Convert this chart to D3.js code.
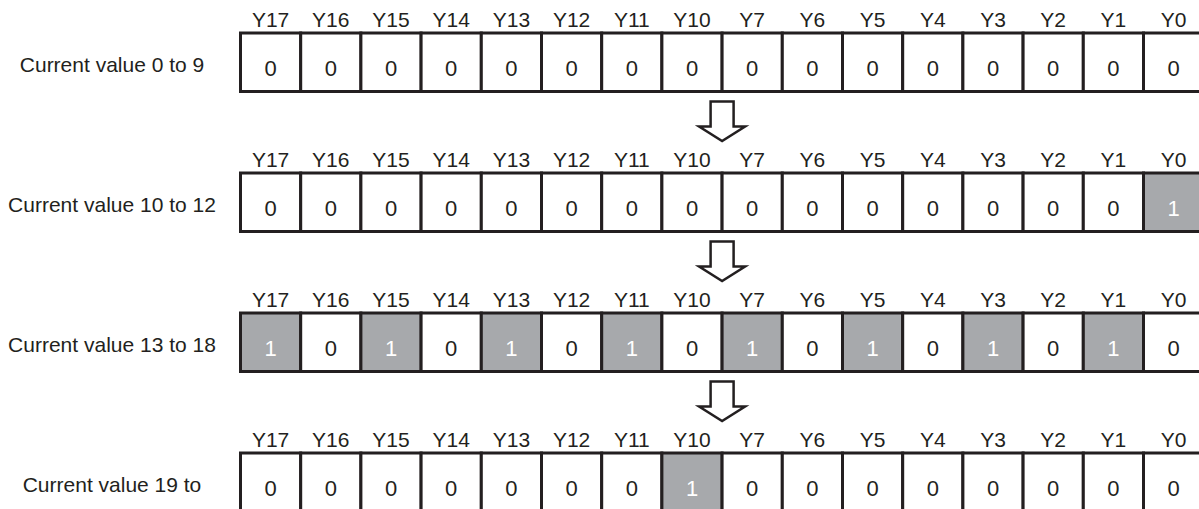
<!DOCTYPE html>
<html>
<head>
<meta charset="utf-8">
<script src="https://cdn.jsdelivr.net/npm/d3@7"></script>
<style>
  html, body { margin: 0; padding: 0; background: #fff; }
  svg { display: block; }
</style>
</head>
<body>
<svg id="chart" width="1199" height="509"></svg>
<script>
// ---- data ----
const bits = ["Y17","Y16","Y15","Y14","Y13","Y12","Y11","Y10","Y7","Y6","Y5","Y4","Y3","Y2","Y1","Y0"];
const rowLabels = ["Current value 0 to 9", "Current value 10 to 12", "Current value 13 to 18", "Current value 19 to"];
const row0 = [0,0,0,0,0,0,0,0,0,0,0,0,0,0,0,0];
const row1 = [0,0,0,0,0,0,0,0,0,0,0,0,0,0,0,1];
const row2 = [1,0,1,0,1,0,1,0,1,0,1,0,1,0,1,0];
const row3 = [0,0,0,0,0,0,0,1,0,0,0,0,0,0,0,0];
const rows = [row0, row1, row2, row3];

// ---- layout ----
const svg = d3.select("#chart");
const ink = "#231f20";
const grayFill = "#a7a9ac";
const font = "'Liberation Sans', Arial, Helvetica, sans-serif";

const x = d3.scaleBand().domain(bits).range([240.5, 240.5 + 16 * 60.2]).padding(0);
const y = d3.scaleBand().domain(d3.range(rows.length)).range([33, 33 + 140 * 4]).padding(0);
const cellH = 58.5;

rows.forEach((vals, ri) => {
  const g = svg.append("g").attr("transform", `translate(0,${y(ri)})`);

  // column header labels
  g.selectAll("text.hdr").data(bits).enter().append("text")
    .attr("class", "hdr")
    .attr("x", d => x(d) + x.bandwidth() / 2)
    .attr("y", -6)
    .attr("text-anchor", "middle")
    .attr("font-family", font)
    .attr("font-size", 21)
    .attr("fill", ink)
    .text(d => d);

  // row label
  g.append("text")
    .attr("x", 112)
    .attr("y", 39)
    .attr("text-anchor", "middle")
    .attr("font-family", font)
    .attr("font-size", 21)
    .attr("fill", ink)
    .text(rowLabels[ri]);

  const cells = vals.map((v, i) => ({ bit: bits[i], v }));

  // cells
  g.selectAll("rect.cell").data(cells).enter().append("rect")
    .attr("class", "cell")
    .attr("x", d => x(d.bit))
    .attr("y", 0)
    .attr("width", x.bandwidth())
    .attr("height", cellH)
    .attr("fill", d => d.v ? grayFill : "#fff")
    .attr("stroke", ink)
    .attr("stroke-width", 3);

  g.selectAll("text.val").data(cells).enter().append("text")
    .attr("class", "val")
    .attr("x", d => x(d.bit) + x.bandwidth() / 2)
    .attr("y", 43)
    .attr("text-anchor", "middle")
    .attr("font-family", font)
    .attr("font-size", 22)
    .attr("fill", d => d.v ? "#fff" : ink)
    .text(d => d.v);

  // down arrow between rows
  if (ri < rows.length - 1) {
    const cx = x("Y7");
    const top = cellH + 10;
    const headY = top + 25;
    const tip = top + 39.5;
    const sw = 11.5, hw = 23;
    const path = d3.path();
    path.moveTo(cx - sw, top);
    path.lineTo(cx + sw, top);
    path.lineTo(cx + sw, headY);
    path.lineTo(cx + hw, headY);
    path.lineTo(cx, tip);
    path.lineTo(cx - hw, headY);
    path.lineTo(cx - sw, headY);
    path.closePath();
    g.append("path")
      .attr("d", path.toString())
      .attr("fill", "#fff")
      .attr("stroke", ink)
      .attr("stroke-width", 2.5)
      .attr("stroke-linejoin", "miter");
  }
});
</script>
</body>
</html>
